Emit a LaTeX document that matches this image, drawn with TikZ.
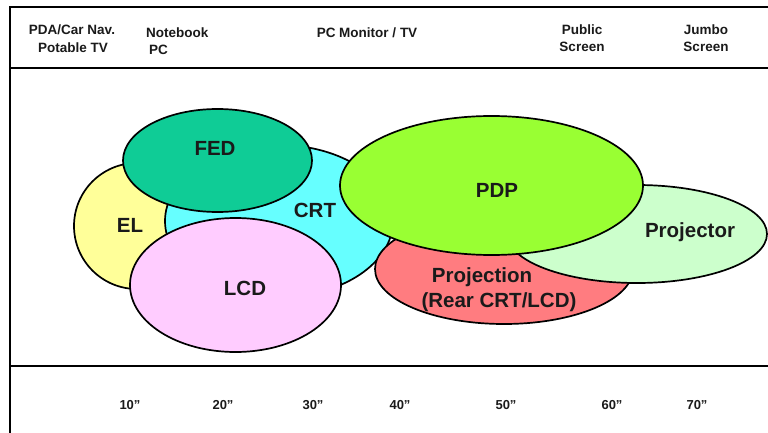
\documentclass[tikz,border=0pt]{standalone}
\usepackage{fontspec}
\setmainfont{Liberation Sans}
\usetikzlibrary{shapes.geometric}

\definecolor{elcol}{HTML}{FFFF99}
\definecolor{fedcol}{HTML}{0FCC96}
\definecolor{crtcol}{HTML}{66FFFF}
\definecolor{lcdcol}{HTML}{FFCCFF}
\definecolor{pdpcol}{HTML}{99FF33}
\definecolor{projcol}{HTML}{CCFFCC}
\definecolor{rearcol}{HTML}{FF7C80}
\definecolor{ink}{HTML}{1A1A1A}

\tikzset{
  frameline/.style={line width=2pt, black},
  blob/.style={ellipse, draw=black, line width=1.7pt, inner sep=0pt, outer sep=0pt},
  tech/.style={font=\fontsize{20.5}{22}\selectfont\bfseries, text=ink, inner sep=0pt},
  usage/.style={font=\fontsize{13.5}{16.5}\selectfont\bfseries, text=ink, inner sep=0pt, align=center},
  size/.style={font=\fontsize{13}{15}\selectfont\bfseries, text=ink, inner sep=0pt},
}

\begin{document}
\begin{tikzpicture}[x=1pt, y=-1pt]
  \useasboundingbox (0,0) rectangle (768,433);
  \fill[white] (0,0) rectangle (768,433);

  % frame and band separators
  \coordinate (tl) at (10,7);
  \coordinate (tr) at (768,7);
  \coordinate (bl) at (10,433);
  \coordinate (hl) at (10,68);
  \coordinate (hr) at (768,68);
  \coordinate (fl) at (10,366);
  \coordinate (fr) at (768,366);
  \draw[frameline] (tr) -- (tl) -- (bl);
  \draw[frameline] (hl) -- (hr);
  \draw[frameline] (fl) -- (fr);

  % application bands
  \node[usage] (pda1) at (72,30) {PDA/Car Nav.};
  \node[usage] (pda2) at (73,48) {Potable TV};
  \node[usage, anchor=west] (nb1) at (146,33) {Notebook};
  \node[usage, anchor=west] (nb2) at (149,50) {PC};
  \node[usage] (pcm) at (367,33) {PC Monitor / TV};
  \node[usage] (pub) at (582,38) {Public\\Screen};
  \node[usage] (jmb) at (706,38) {Jumbo\\Screen};

  % display technologies
  \node[blob, fill=elcol, minimum width=126pt, minimum height=126pt] (el) at (137,226) {};
  \node[blob, fill=crtcol, minimum width=228pt, minimum height=152pt] (crt) at (279,221) {};
  \node[blob, fill=fedcol, minimum width=189pt, minimum height=103pt] (fed) at (217.5,160.5) {};
  \node[blob, fill=lcdcol, minimum width=211pt, minimum height=134pt] (lcd) at (235.5,285) {};
  \node[blob, fill=rearcol, minimum width=258pt, minimum height=110pt] (rear) at (504,269) {};
  \node[blob, fill=projcol, minimum width=260pt, minimum height=98pt] (proj) at (637,234) {};
  \node[blob, fill=pdpcol, minimum width=303pt, minimum height=139pt] (pdp) at (491.5,185.5) {};

  \node[tech] (elt) at (130,225) {EL};
  \node[tech] (crtt) at (315,210) {CRT};
  \node[tech] (fedt) at (215,148) {FED};
  \node[tech] (lcdt) at (245,288) {LCD};
  \node[tech] (pdpt) at (497,190) {PDP};
  \node[tech] (projt) at (690,232) {Projector};
  \node[tech] (reart1) at (482,277) {Projection};
  \node[tech] (reart2) at (499,302) {(Rear CRT/LCD)};

  % screen sizes
  \node[size] (s10) at (130,405) {10''};
  \node[size] (s20) at (223,405) {20''};
  \node[size] (s30) at (313,405) {30''};
  \node[size] (s40) at (400,405) {40''};
  \node[size] (s50) at (506,405) {50''};
  \node[size] (s60) at (612,405) {60''};
  \node[size] (s70) at (697,405) {70''};
\end{tikzpicture}
\end{document}
